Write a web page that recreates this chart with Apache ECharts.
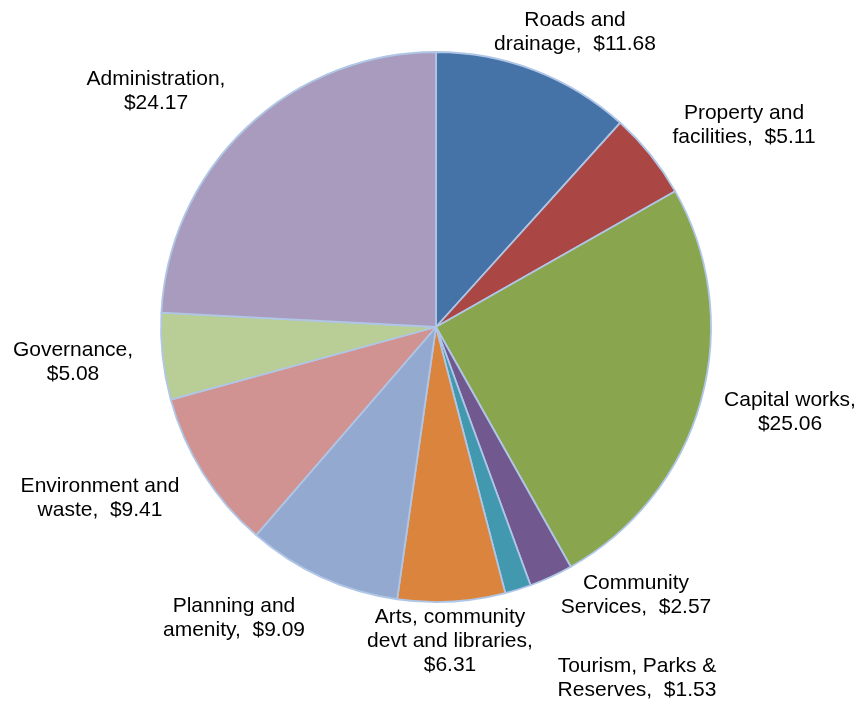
<!DOCTYPE html>
<html>
<head>
<meta charset="utf-8">
<script src="https://cdn.jsdelivr.net/npm/echarts@6/dist/echarts.min.js"></script>
<style>
  html, body { margin: 0; padding: 0; background: #fff; }
  #chart { width: 863px; height: 702px; }
</style>
</head>
<body>
<div id="chart"></div>
<script>
// Budget categories, clockwise from 12 o'clock
const categories = [
  'Roads and drainage',
  'Property and facilities',
  'Capital works',
  'Community Services',
  'Tourism, Parks & Reserves',
  'Arts, community devt and libraries',
  'Planning and amenity',
  'Environment and waste',
  'Governance',
  'Administration'
];
const amounts = [11.68, 5.11, 25.06, 2.57, 1.53, 6.31, 9.09, 9.41, 5.08, 24.17];

// Wrapped label text (name part) for each slice
const wrappedNames = [
  'Roads and\ndrainage,  ',
  'Property and\nfacilities,  ',
  'Capital works,\n',
  'Community\nServices,  ',
  'Tourism, Parks &\nReserves,  ',
  'Arts, community\ndevt and libraries,\n',
  'Planning and\namenity,  ',
  'Environment and\nwaste,  ',
  'Governance,\n',
  'Administration,\n'
];

const colors = ['#4572A7', '#AA4643', '#89A54E', '#71588F', '#4198AF',
                '#DB843D', '#93A9CF', '#D19392', '#B9CD96', '#A99BBD'];

// Where each label block is centred on the canvas
const labelCentres = [
  [575, 32], [744, 125], [790, 412], [636, 595], [637, 678],
  [450, 641], [234, 618], [100, 498], [73, 362], [156, 91]
];

const chart = echarts.init(document.getElementById('chart'), null, { renderer: 'canvas' });

chart.setOption({
  animation: false,
  backgroundColor: '#ffffff',
  color: colors,
  series: [{
    type: 'pie',
    center: [436, 327],
    radius: 275,
    startAngle: 90,
    clockwise: true,
    data: categories.map((c, i) => ({ name: c, value: amounts[i] })),
    itemStyle: { borderColor: '#B0C6E6', borderWidth: 1.8 },
    label: {
      show: true,
      position: 'outside',
      color: '#000',
      fontFamily: '"Liberation Sans", Arial, sans-serif',
      fontSize: 21,
      lineHeight: 24,
      align: 'center',
      overflow: 'none',
      formatter: p => wrappedNames[p.dataIndex] + '$' + p.value.toFixed(2)
    },
    labelLine: { show: false },
    labelLayout: p => ({
      x: labelCentres[p.dataIndex][0],
      y: labelCentres[p.dataIndex][1],
      align: 'center',
      verticalAlign: 'middle',
      width: 300
    }),
    emphasis: { disabled: true }
  }]
});
</script>
</body>
</html>
